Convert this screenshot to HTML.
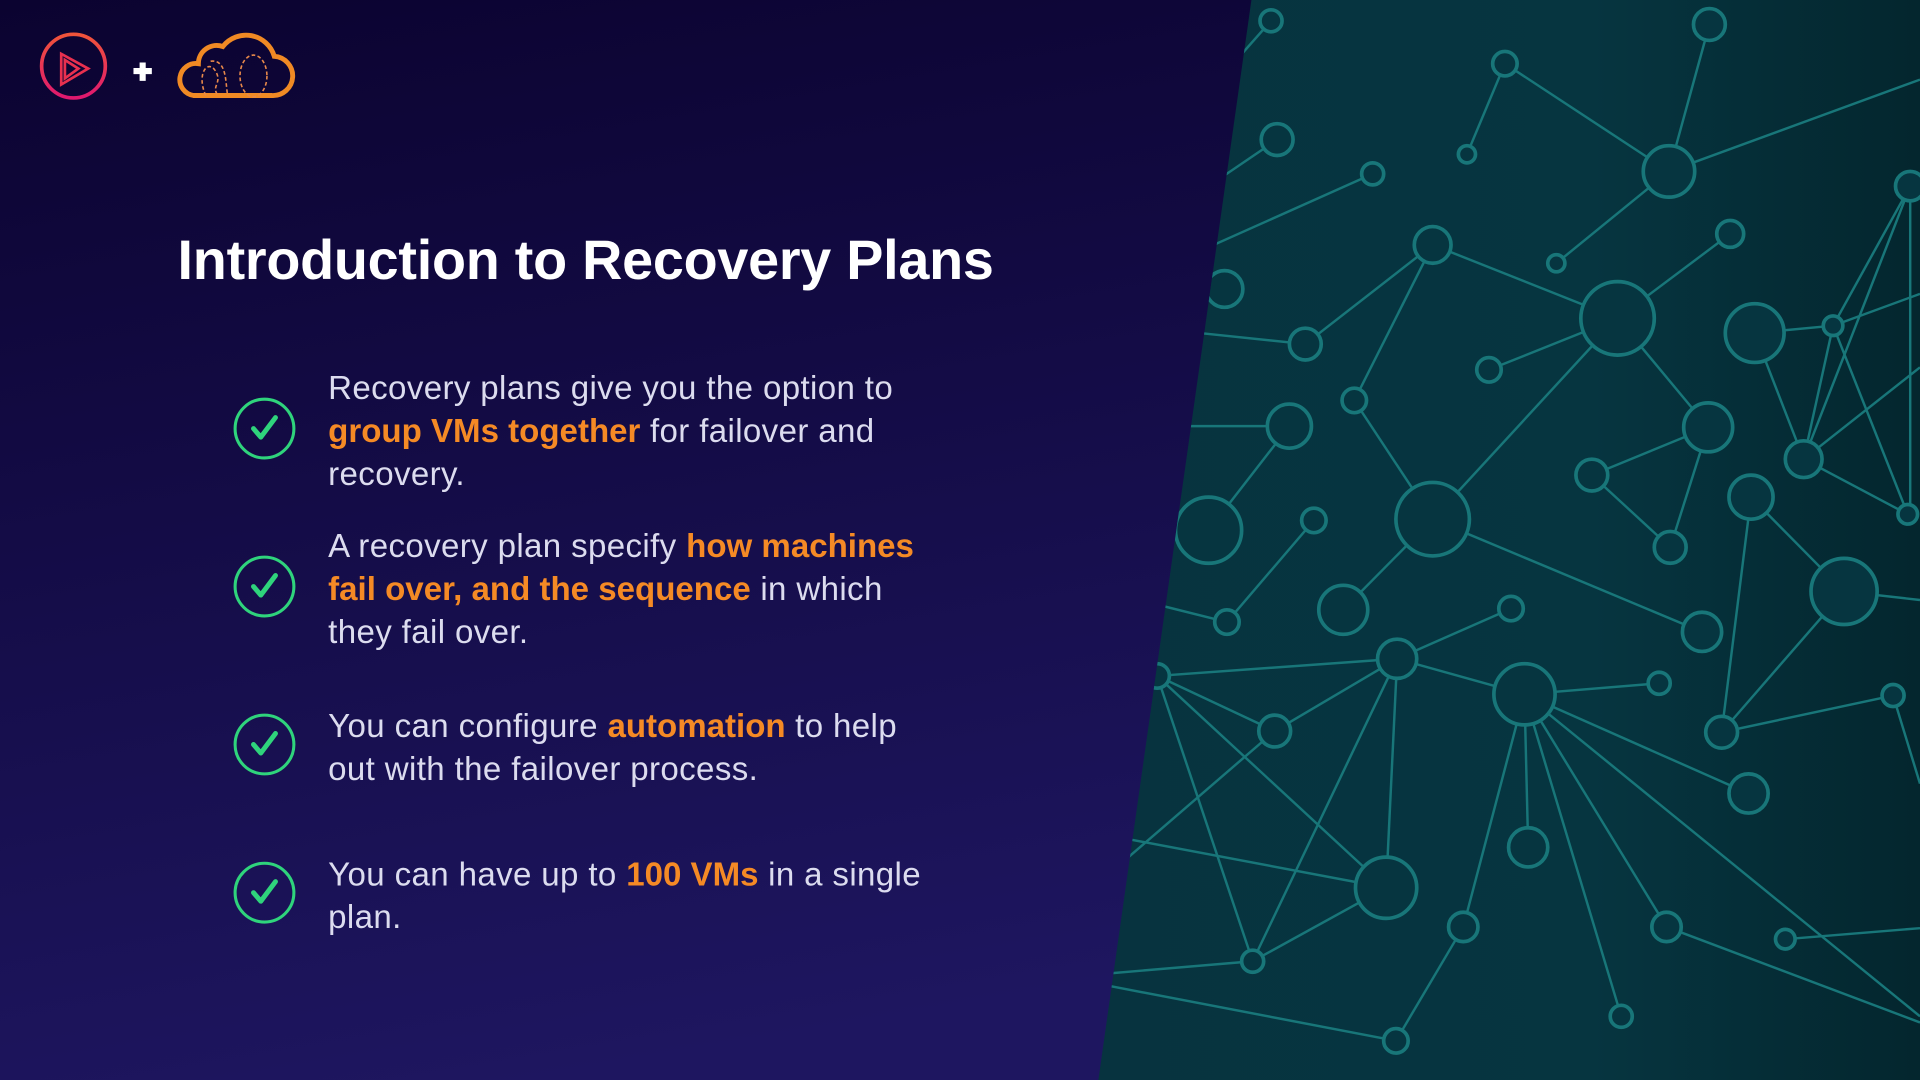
<!DOCTYPE html>
<html><head><meta charset="utf-8"><style>
html,body{margin:0;padding:0;width:1920px;height:1080px;overflow:hidden;background:#0c0430}
#s{position:absolute;left:0;top:0;width:1568px;height:882px;transform:scale(1.22449);transform-origin:0 0;font-family:"Liberation Sans",sans-serif}
.t{position:absolute;color:#dcdcef;font-size:27px;letter-spacing:0.3px;line-height:35px;white-space:nowrap}
.o{color:#f58a25;font-weight:bold;letter-spacing:0}
h1{position:absolute;left:145px;top:187px;margin:0;color:#fff;font-size:45.5px;font-weight:bold;letter-spacing:-0.2px;white-space:nowrap}
</style></head><body><div id="s">
<svg width="1568" height="882" style="position:absolute;left:0;top:0">
<defs>
<linearGradient id="lb" x1="0" y1="0" x2="0.3" y2="1"><stop offset="0" stop-color="#0b0330"/><stop offset="1" stop-color="#1e1660"/></linearGradient>
<linearGradient id="rb" x1="0" y1="0" x2="1" y2="0"><stop offset="0" stop-color="#07333f"/><stop offset="0.6" stop-color="#063540"/><stop offset="1" stop-color="#04262e"/></linearGradient>
<linearGradient id="pg" x1="0" y1="0" x2="0" y2="1"><stop offset="0" stop-color="#f0543a"/><stop offset="1" stop-color="#e0186f"/></linearGradient>
</defs>
<rect width="1568" height="882" fill="url(#lb)"/>
<polygon points="1022,0 1568,0 1568,882 897,882" fill="url(#rb)"/>
<clipPath id="cp"><polygon points="1022,0 1568,0 1568,882 897,882"/></clipPath>
<g clip-path="url(#cp)" stroke="#187679" stroke-width="2" fill="none">
<g>
<line x1="1038" y1="17" x2="1000" y2="60"/><line x1="1229" y1="52" x2="1198" y2="126"/><line x1="1229" y1="52" x2="1363" y2="140"/><line x1="1396" y1="20" x2="1363" y2="140"/><line x1="1363" y1="140" x2="1568" y2="65"/><line x1="1363" y1="140" x2="1271" y2="215"/>
<line x1="1043" y1="114" x2="990" y2="150"/><line x1="1121" y1="142" x2="980" y2="205"/>
<line x1="1170" y1="200" x2="1066" y2="281"/><line x1="1170" y1="200" x2="1106" y2="327"/><line x1="1170" y1="200" x2="1321" y2="260"/><line x1="1066" y1="281" x2="980" y2="272"/>
<line x1="1413" y1="191" x2="1321" y2="260"/><line x1="1321" y1="260" x2="1216" y2="302"/><line x1="1321" y1="260" x2="1170" y2="424"/><line x1="1321" y1="260" x2="1395" y2="349"/>
<line x1="1433" y1="272" x2="1497" y2="266"/><line x1="1497" y1="266" x2="1568" y2="240"/><line x1="1497" y1="266" x2="1473" y2="375"/><line x1="1497" y1="266" x2="1558" y2="420"/><line x1="1560" y1="152" x2="1473" y2="375"/><line x1="1560" y1="152" x2="1497" y2="266"/><line x1="1560" y1="152" x2="1560" y2="420"/><line x1="1473" y1="375" x2="1568" y2="300"/><line x1="1473" y1="375" x2="1558" y2="420"/><line x1="1433" y1="272" x2="1473" y2="375"/>
<line x1="1395" y1="349" x2="1300" y2="388"/><line x1="1395" y1="349" x2="1364" y2="447"/><line x1="1300" y1="388" x2="1364" y2="447"/>
<line x1="1106" y1="327" x2="1170" y2="424"/><line x1="1170" y1="424" x2="1097" y2="498"/><line x1="1170" y1="424" x2="1390" y2="516"/>
<line x1="1053" y1="348" x2="960" y2="348"/><line x1="1053" y1="348" x2="987" y2="433"/>
<line x1="1073" y1="425" x2="1002" y2="508"/><line x1="1002" y1="508" x2="930" y2="490"/>
<line x1="1430" y1="406" x2="1406" y2="598"/><line x1="1430" y1="406" x2="1506" y2="483"/><line x1="1506" y1="483" x2="1568" y2="490"/><line x1="1506" y1="483" x2="1406" y2="598"/><line x1="1406" y1="598" x2="1546" y2="568"/><line x1="1546" y1="568" x2="1568" y2="640"/>
<line x1="945" y1="552" x2="1141" y2="538"/><line x1="945" y1="552" x2="1041" y2="597"/><line x1="945" y1="552" x2="1132" y2="725"/><line x1="945" y1="552" x2="1023" y2="785"/>
<line x1="1141" y1="538" x2="1234" y2="497"/><line x1="1141" y1="538" x2="1245" y2="567"/><line x1="1141" y1="538" x2="1041" y2="597"/><line x1="1141" y1="538" x2="1023" y2="785"/><line x1="1141" y1="538" x2="1132" y2="725"/>
<line x1="1245" y1="567" x2="1355" y2="558"/><line x1="1245" y1="567" x2="1248" y2="692"/><line x1="1245" y1="567" x2="1195" y2="757"/><line x1="1245" y1="567" x2="1324" y2="830"/><line x1="1245" y1="567" x2="1361" y2="757"/><line x1="1245" y1="567" x2="1428" y2="648"/><line x1="1245" y1="567" x2="1568" y2="830"/>
<line x1="1041" y1="597" x2="910" y2="710"/><line x1="1132" y1="725" x2="920" y2="685"/><line x1="1132" y1="725" x2="1023" y2="785"/>
<line x1="1023" y1="785" x2="905" y2="795"/><line x1="905" y1="805" x2="1140" y2="850"/><line x1="1195" y1="757" x2="1140" y2="850"/>
<line x1="1361" y1="757" x2="1568" y2="835"/><line x1="1458" y1="767" x2="1568" y2="758"/>
</g>
<g fill="#063540" stroke-width="3">
<circle cx="1038" cy="17" r="9"/><circle cx="1043" cy="114" r="13"/><circle cx="1121" cy="142" r="9"/><circle cx="1198" cy="126" r="7"/><circle cx="1229" cy="52" r="10"/><circle cx="1396" cy="20" r="13"/><circle cx="1363" cy="140" r="21"/><circle cx="1560" cy="152" r="12"/><circle cx="1170" cy="200" r="15"/><circle cx="1271" cy="215" r="7"/><circle cx="1413" cy="191" r="11"/><circle cx="1000" cy="236" r="15"/><circle cx="1321" cy="260" r="30"/><circle cx="1066" cy="281" r="13"/><circle cx="1216" cy="302" r="10"/><circle cx="1433" cy="272" r="24"/><circle cx="1497" cy="266" r="8"/><circle cx="1106" cy="327" r="10"/><circle cx="1053" cy="348" r="18"/><circle cx="1395" cy="349" r="20"/><circle cx="1473" cy="375" r="15"/><circle cx="1300" cy="388" r="13"/><circle cx="1170" cy="424" r="30"/><circle cx="1073" cy="425" r="10"/><circle cx="987" cy="433" r="27"/><circle cx="1364" cy="447" r="13"/><circle cx="1430" cy="406" r="18"/><circle cx="1558" cy="420" r="8"/><circle cx="1097" cy="498" r="20"/><circle cx="1002" cy="508" r="10"/><circle cx="1234" cy="497" r="10"/><circle cx="1390" cy="516" r="16"/><circle cx="1506" cy="483" r="27"/><circle cx="945" cy="552" r="10"/><circle cx="1141" cy="538" r="16"/><circle cx="1245" cy="567" r="25"/><circle cx="1355" cy="558" r="9"/><circle cx="1041" cy="597" r="13"/><circle cx="1406" cy="598" r="13"/><circle cx="1546" cy="568" r="9"/><circle cx="1428" cy="648" r="16"/><circle cx="1248" cy="692" r="16"/><circle cx="1132" cy="725" r="25"/><circle cx="1195" cy="757" r="12"/><circle cx="1023" cy="785" r="9"/><circle cx="1361" cy="757" r="12"/><circle cx="1458" cy="767" r="8"/><circle cx="1324" cy="830" r="9"/><circle cx="1140" cy="850" r="10"/>
</g></g>
<!-- logos -->
<circle cx="60" cy="54" r="26" fill="none" stroke="url(#pg)" stroke-width="3"/>
<path d="M50,44 L50,69 L72,56 Z M53,49 L53,64 L64,56 Z" fill="none" stroke="#e8304f" stroke-width="2.2"/>
<path d="M109,58 h15 M116.5,51 v15" stroke="#fff" stroke-width="5"/>
<path d="M158,78 H222 A16,16 0 0 0 224,46 A24,24 0 0 0 182,38 A15,15 0 0 0 162,52 A13,13 0 0 0 158,78 Z" fill="none" stroke="#f08a24" stroke-width="4"/>
<g fill="none" stroke="#e8894a" stroke-width="1.3" stroke-dasharray="3,2">
<path d="M168,78 C160,60 170,48 176,58 C182,68 172,70 178,78 M172,50 C186,48 184,70 186,78"/>
<ellipse cx="207" cy="62" rx="11" ry="17"/>
</g>
<!-- checks -->
<g fill="none" stroke="#2fd47c" stroke-width="2.5">
<circle cx="216" cy="350" r="24"/><circle cx="216" cy="479" r="24"/><circle cx="216" cy="608" r="24"/><circle cx="216" cy="729" r="24"/>
</g>
<g fill="none" stroke="#2fd47c" stroke-width="4" stroke-linecap="round" stroke-linejoin="round">
<path d="M207,350 l6,7 l12,-16"/><path d="M207,479 l6,7 l12,-16"/><path d="M207,608 l6,7 l12,-16"/><path d="M207,729 l6,7 l12,-16"/>
</g>
</svg>
<h1>Introduction to Recovery Plans</h1>
<div class="t" style="left:268px;top:300px">Recovery plans give you the option to<br><span class="o">group VMs together</span> for failover and<br>recovery.</div>
<div class="t" style="left:268px;top:429px">A recovery plan specify <span class="o">how machines</span><br><span class="o">fail over, and the sequence</span> in which<br>they fail over.</div>
<div class="t" style="left:268px;top:576px">You can configure <span class="o">automation</span> to help<br>out with the failover process.</div>
<div class="t" style="left:268px;top:697px">You can have up to <span class="o">100 VMs</span> in a single<br>plan.</div>
</div></body></html>
